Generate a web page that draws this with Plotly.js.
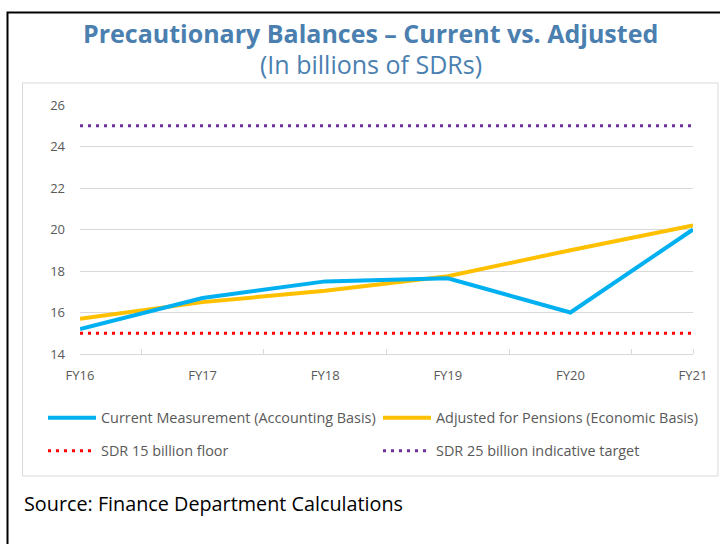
<!DOCTYPE html>
<html>
<head>
<meta charset="utf-8">
<script src="https://cdn.plot.ly/plotly-3.0.1.min.js"></script>
<style>
  html, body { margin: 0; padding: 0; background: #fff; }
  #chart { width: 720px; height: 544px; }
</style>
</head>
<body>
<div id="chart"></div>
<script>
// --- DATA ---
const years = ['FY16', 'FY17', 'FY18', 'FY19', 'FY20', 'FY21'];
const currentBasis = [15.2, 16.7, 17.5, 17.65, 16.0, 20.0];
const adjustedBasis = [15.7, 16.5, 17.05, 17.75, 19.0, 20.2];
const floorLevel = [15, 15, 15, 15, 15, 15];
const targetLevel = [25, 25, 25, 25, 25, 25];

// --- LAYOUT HELPERS (pixels -> paper) ---
const W = 720, H = 544;
const M = { l: 80, r: 27, t: 105, b: 190 };
const plotW = W - M.l - M.r;
const plotH = H - M.t - M.b;
const px = x => (x - M.l) / plotW;
const py = y => (H - M.b - y) / plotH;

const xIdx = years.map((_, i) => i);
const font = '"Open Sans", "Noto Sans", sans-serif';
const grey = '#595959';

function lineTrace(vals, name, color, dash, width, legend) {
    return {
        x: xIdx, y: vals, name: name, type: 'scatter', mode: 'lines',
        line: { color: color, width: width, dash: dash },
        legend: legend, hoverinfo: 'skip'
    };
}

const traces = [
    lineTrace(floorLevel, 'SDR 15 billion floor', '#ff0000', '3px,5px', 3, 'legend2'),
    lineTrace(targetLevel, 'SDR 25 billion indicative target', '#7030a0', '3px,5px', 3, 'legend2'),
    lineTrace(adjustedBasis, 'Adjusted for Pensions (Economic Basis)', '#ffc000', 'solid', 4, 'legend'),
    lineTrace(currentBasis, 'Current Measurement (Accounting Basis)', '#00b0f0', 'solid', 4, 'legend'),
];

const legendBase = {
    orientation: 'h', xanchor: 'left', yanchor: 'middle',
    x: px(43), font: { family: font, size: 14.4, color: grey },
    itemwidth: 48,
    entrywidth: 272, entrywidthmode: 'pixels',
    traceorder: 'normal', bgcolor: 'rgba(0,0,0,0)'
};

const layout = {
    width: W, height: H,
    margin: M,
    paper_bgcolor: '#fff', plot_bgcolor: '#fff',
    font: { family: font, color: grey },
    showlegend: true,
    legend: Object.assign({}, legendBase, { y: py(418), traceorder: 'reversed' }),
    legend2: Object.assign({}, legendBase, { y: py(451) }),
    xaxis: {
        range: [0, 5], tickvals: xIdx, ticktext: years,
        showgrid: false, zeroline: false, ticks: '',
        showline: true, linecolor: '#d9d9d9', linewidth: 1,
        tickfont: { family: font, size: 13, color: grey },
        ticklabelstandoff: 9,
        minor: {
            tickmode: 'array', tickvals: [0.5, 1.5, 2.5, 3.5, 4.5, 5],
            ticks: 'inside', ticklen: 5, tickcolor: '#d9d9d9', showgrid: false
        }
    },
    yaxis: {
        range: [14, 26], dtick: 2, tick0: 14,
        showgrid: true, gridcolor: '#d9d9d9', gridwidth: 1,
        zeroline: false, showline: false, ticks: '',
        tickfont: { family: font, size: 13, color: grey },
        ticklabelstandoff: 14
    },
    shapes: [
        { type: 'rect', xref: 'paper', yref: 'paper', layer: 'below',
          x0: px(7.5), x1: px(740), y0: py(560), y1: py(12.5),
          line: { color: '#000', width: 2 } },
        { type: 'rect', xref: 'paper', yref: 'paper', layer: 'below',
          x0: px(22.5), x1: px(718), y0: py(476), y1: py(83),
          line: { color: '#d9d9d9', width: 1 } }
    ],
    annotations: [
        { text: '<b>Precautionary Balances – Current vs. Adjusted</b>',
          xref: 'paper', yref: 'paper', x: px(370.5), y: py(33),
          xanchor: 'center', yanchor: 'middle', showarrow: false,
          font: { family: font, size: 25, color: '#4a7fb0' } },
        { text: '(In billions of SDRs)',
          xref: 'paper', yref: 'paper', x: px(370.5), y: py(64),
          xanchor: 'center', yanchor: 'middle', showarrow: false,
          font: { family: font, size: 25, color: '#4a7fb0' } },
        { text: 'Source: Finance Department Calculations',
          xref: 'paper', yref: 'paper', x: px(22), y: py(503),
          xanchor: 'left', yanchor: 'middle', showarrow: false,
          font: { family: font, size: 19.8, color: '#000' } }
    ]
};

Plotly.newPlot('chart', traces, layout, { staticPlot: true });
</script>
</body>
</html>
